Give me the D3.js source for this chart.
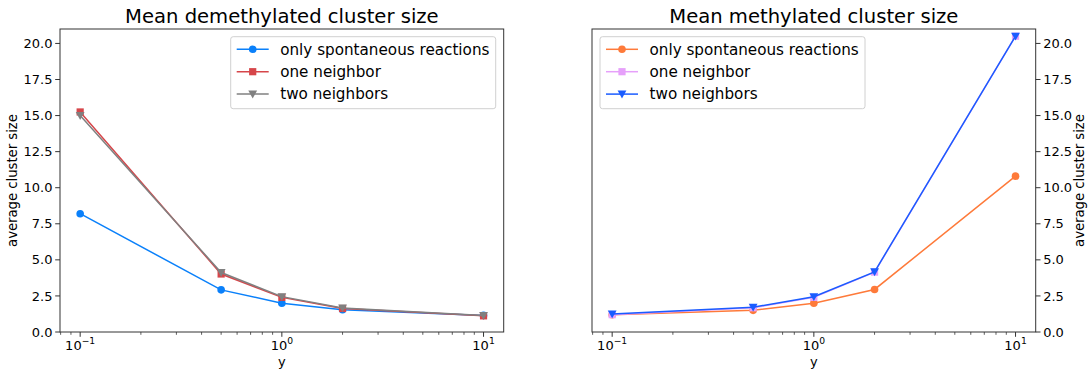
<!DOCTYPE html>
<html lang="en">
<head>
    <meta charset="utf-8">
    <script src="https://d3js.org/d3.v7.min.js"></script>
    <style>
        body { margin: 0; background: #fff; }
        text { font-family: "DejaVu Sans", sans-serif; fill: #000; }
    </style>
</head>
<body>
<script type="text/javascript">

    let w = 1091;
    let h = 373;

    // data
    let xs = [0.1, 0.5, 1, 2, 10];

    let demSpont = [8.2, 2.92, 2.0, 1.55, 1.15];
    let demOne   = [15.25, 4.02, 2.4, 1.63, 1.12];
    let demTwo   = [15.0, 4.12, 2.45, 1.67, 1.14];

    let metSpont = [1.2, 1.5, 2.0, 2.95, 10.8];
    let metOne   = [1.2, 1.68, 2.4, 4.15, 20.5];
    let metTwo   = [1.25, 1.72, 2.45, 4.17, 20.5];

    let seriesNames = ["only spontaneous reactions", "one neighbor", "two neighbors"];
    let yTicks = [0, 2.5, 5, 7.5, 10, 12.5, 15, 17.5, 20];
    let xTicks = [0.1, 1, 10];
    let xTickExp = ["\u22121", "0", "1"];

    let panels = [
        {title: "Mean demethylated cluster size", left: 60, yRight: false,
         series: [
            {name: seriesNames[0], values: demSpont, color: "#0a80fa", marker: "circle"},
            {name: seriesNames[1], values: demOne, color: "#d6464a", marker: "square"},
            {name: seriesNames[2], values: demTwo, color: "#808080", marker: "tri"}
         ]},
        {title: "Mean methylated cluster size", left: 592, yRight: true,
         series: [
            {name: seriesNames[0], values: metSpont, color: "#fe7a3a", marker: "circle"},
            {name: seriesNames[1], values: metOne, color: "#e6a0fa", marker: "square"},
            {name: seriesNames[2], values: metTwo, color: "#1a5cff", marker: "tri"}
         ]}
    ];

    let pw = 443.7;
    let plotTop = 29, plotBottom = 332;

    let svg = d3.select("body").append("svg")
                .attr("width", w)
                .attr("height", h);

    function drawMarker(g, type, cx, cy, color) {
        if (type == "circle") {
            g.append("circle").attr("cx", cx).attr("cy", cy).attr("r", 3.8).attr("fill", color);
        } else if (type == "square") {
            g.append("rect").attr("x", cx - 3.6).attr("y", cy - 3.6)
                .attr("width", 7.2).attr("height", 7.2).attr("fill", color);
        } else {
            let s = 4.4;
            g.append("path")
                .attr("d", "M" + (cx - s) + "," + (cy - s * 0.8) + "L" + (cx + s) + "," + (cy - s * 0.8) + "L" + cx + "," + (cy + s) + "Z")
                .attr("fill", color);
        }
    }

    panels.forEach(function(p) {
        let x = d3.scaleLog()
                  .domain([Math.pow(10, -1.1), Math.pow(10, 1.1)])
                  .range([p.left, p.left + pw]);
        let y = d3.scaleLinear()
                  .domain([0, 21])
                  .range([plotBottom, plotTop]);

        let g = svg.append("g");

        // lines and markers
        let line = d3.line()
                     .x(function(d, i) { return x(xs[i]); })
                     .y(function(d) { return y(d); });

        p.series.forEach(function(s) {
            g.append("path")
                .attr("d", line(s.values))
                .attr("fill", "none")
                .attr("stroke", s.color)
                .attr("stroke-width", 1.5);
            s.values.forEach(function(v, i) {
                drawMarker(g, s.marker, x(xs[i]), y(v), s.color);
            });
        });

        // frame
        g.append("rect")
            .attr("x", p.left).attr("y", plotTop)
            .attr("width", pw).attr("height", plotBottom - plotTop)
            .attr("fill", "none").attr("stroke", "#333").attr("stroke-width", 1);

        // x minor ticks
        let minor = x.ticks().filter(function(t) {
            return xTicks.indexOf(t) < 0 && t >= x.domain()[0] && t <= x.domain()[1];
        });
        g.selectAll(".minor").data(minor).join("line")
            .attr("x1", function(d) { return x(d); })
            .attr("x2", function(d) { return x(d); })
            .attr("y1", plotBottom).attr("y2", plotBottom + 2.8)
            .attr("stroke", "#333").attr("stroke-width", 0.8);

        // x major ticks
        g.selectAll(".major").data(xTicks).join("line")
            .attr("x1", function(d) { return x(d); })
            .attr("x2", function(d) { return x(d); })
            .attr("y1", plotBottom).attr("y2", plotBottom + 4.8)
            .attr("stroke", "#333").attr("stroke-width", 1);

        let xl = g.selectAll(".xl").data(xTicks).join("text")
            .attr("x", function(d) { return x(d); })
            .attr("y", plotBottom + 17.5)
            .attr("text-anchor", "middle")
            .style("font-size", "13px");
        xl.append("tspan").text("10");
        xl.append("tspan")
            .attr("dy", -5.5)
            .style("font-size", "9.2px")
            .text(function(d, i) { return xTickExp[i]; });

        g.append("text")
            .attr("x", p.left + pw / 2)
            .attr("y", plotBottom + 33.5)
            .attr("text-anchor", "middle")
            .style("font-size", "13px")
            .text("y");

        // y ticks
        let yx = p.yRight ? p.left + pw : p.left;
        let dir = p.yRight ? 1 : -1;
        g.selectAll(".yt").data(yTicks).join("line")
            .attr("x1", yx).attr("x2", yx + dir * 4.8)
            .attr("y1", function(d) { return y(d); })
            .attr("y2", function(d) { return y(d); })
            .attr("stroke", "#333").attr("stroke-width", 1);

        g.selectAll(".yl").data(yTicks).join("text")
            .attr("x", yx + dir * 7.5)
            .attr("y", function(d) { return y(d) + 4.6; })
            .attr("text-anchor", p.yRight ? "start" : "end")
            .style("font-size", "13px")
            .text(function(d) { return d3.format(".1f")(d); });

        let lx = p.yRight ? 1084 : 17;
        g.append("text")
            .attr("transform", "translate(" + lx + "," + ((plotTop + plotBottom) / 2) + ") rotate(-90)")
            .attr("text-anchor", "middle")
            .style("font-size", "13.2px")
            .text("average cluster size");

        // title
        g.append("text")
            .attr("x", p.left + pw / 2)
            .attr("y", 23)
            .attr("text-anchor", "middle")
            .style("font-size", "19.6px")
            .text(p.title);

        // legend
        let lgx = p.yRight ? p.left + 8 : p.left + pw - 8 - 265;
        let lg = g.append("g");
        lg.append("rect")
            .attr("x", lgx).attr("y", 36.7)
            .attr("width", 265).attr("height", 72)
            .attr("rx", 2.5)
            .attr("fill", "#fff").attr("fill-opacity", 0.8)
            .attr("stroke", "#d0d0d0").attr("stroke-width", 1);
        p.series.forEach(function(s, i) {
            let ly = 49.3 + i * 22.4;
            lg.append("line")
                .attr("x1", lgx + 6).attr("x2", lgx + 38)
                .attr("y1", ly).attr("y2", ly)
                .attr("stroke", s.color).attr("stroke-width", 1.5);
            drawMarker(lg, s.marker, lgx + 22, ly, s.color);
            lg.append("text")
                .attr("x", lgx + 49.5)
                .attr("y", ly + 5.3)
                .style("font-size", "15.2px")
                .text(s.name);
        });
    });

</script>
</body>
</html>
